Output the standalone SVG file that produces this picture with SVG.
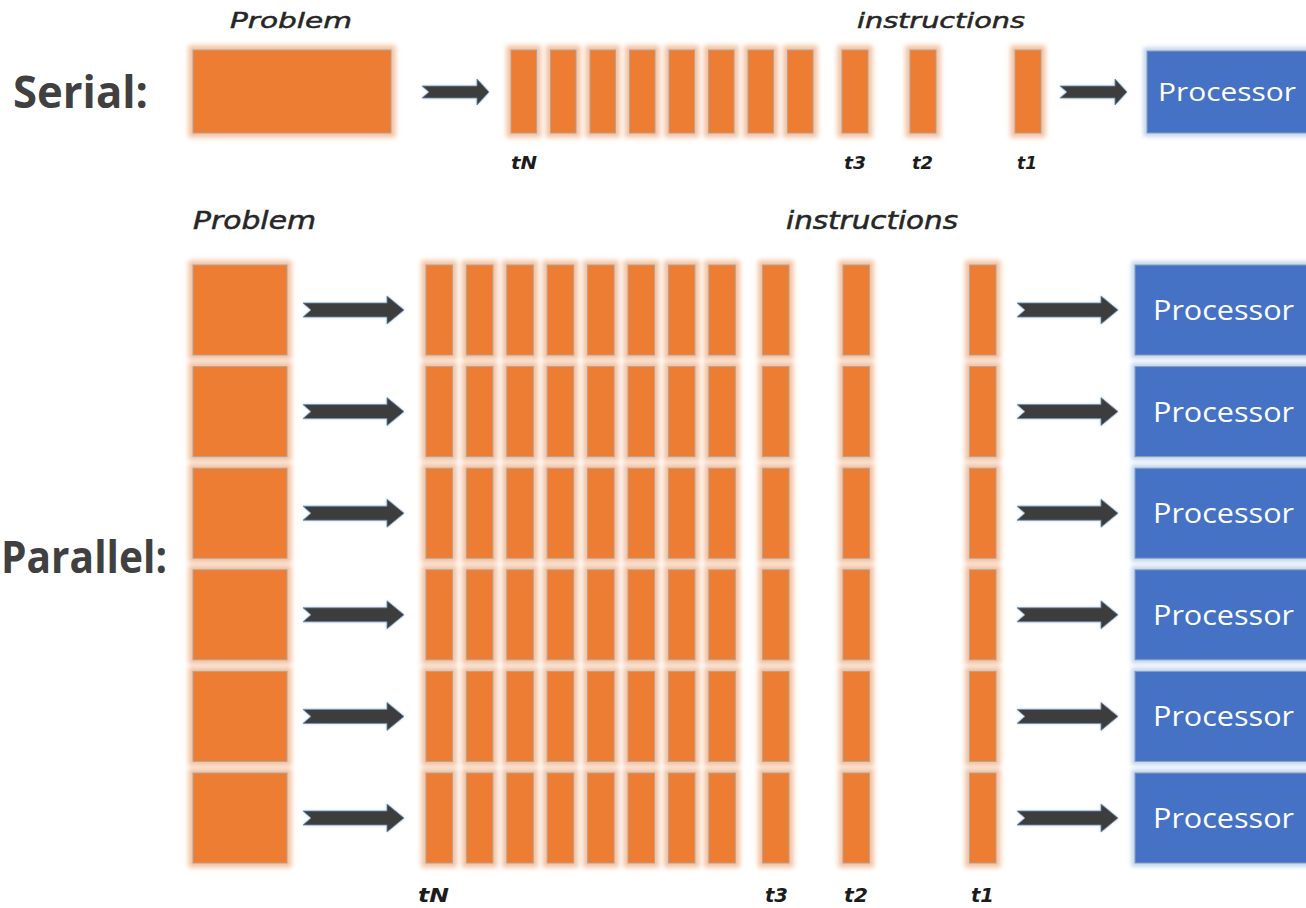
<svg xmlns="http://www.w3.org/2000/svg" width="1306" height="908" viewBox="0 0 1306 908">
  <defs>
    <style>
      .task { fill: #ED7D31; stroke: #b3a398; stroke-width: 1; filter: url(#glowOrange); }
      .cpu { fill: #4472C4; stroke: #8a9bb5; stroke-width: 1; filter: url(#glowBlue); }
      .cpu-text { font-family: "Open Sans", "Liberation Sans", sans-serif; fill: #ffffff; }
      .arrow { fill: #3d3d3d; stroke: #6f8fb3; stroke-width: 0.8; filter: url(#glowArrow); }
      .section { font-family: "Open Sans", "Liberation Sans", sans-serif; font-weight: bold; font-size: 44px; fill: #404040; }
      .heading { font-family: "DejaVu Sans", "Liberation Sans", sans-serif; font-style: italic; fill: #262626; stroke: #262626; stroke-width: 0.5; }
      .tick { font-family: "DejaVu Sans", "Liberation Sans", sans-serif; font-style: italic; font-weight: bold; fill: #1c1c1c; }
    </style>
    <filter id="glowOrange" x="-40%" y="-20%" width="180%" height="140%">
      <feMorphology in="SourceAlpha" operator="dilate" radius="3.5" result="d"/>
      <feGaussianBlur in="d" stdDeviation="2.4" result="b"/>
      <feFlood flood-color="#F0B58E" flood-opacity="0.85"/>
      <feComposite in2="b" operator="in" result="g"/>
      <feMerge><feMergeNode in="g"/><feMergeNode in="SourceGraphic"/></feMerge>
    </filter>
    <filter id="glowBlue" x="-20%" y="-20%" width="140%" height="140%">
      <feMorphology in="SourceAlpha" operator="dilate" radius="3" result="d"/>
      <feGaussianBlur in="d" stdDeviation="2.2" result="b"/>
      <feFlood flood-color="#B4CBEA" flood-opacity="0.85"/>
      <feComposite in2="b" operator="in" result="g"/>
      <feMerge><feMergeNode in="g"/><feMergeNode in="SourceGraphic"/></feMerge>
    </filter>
    <filter id="glowArrow" x="-20%" y="-40%" width="140%" height="180%">
      <feGaussianBlur in="SourceAlpha" stdDeviation="1" result="b"/>
      <feFlood flood-color="#9fbbe0" flood-opacity="0.7"/>
      <feComposite in2="b" operator="in" result="g"/>
      <feMerge><feMergeNode in="g"/><feMergeNode in="SourceGraphic"/></feMerge>
    </filter>
    <!-- notched block arrows -->
    <path id="arrowSmall" d="M0,-6 L55,-6 L55,-13 L67,0 L55,13 L55,6 L0,6 L7,0 Z"/>
    <path id="arrowLarge" d="M0,-7 L84,-7 L84,-14 L101,0 L84,14 L84,7 L0,7 L8,0 Z"/>
    <!-- one parallel row of instruction bars -->
    <g id="barRow">
      <rect class="task" x="426" y="0" width="26.5" height="90"/>
      <rect class="task" x="466.4" y="0" width="26.5" height="90"/>
      <rect class="task" x="506.8" y="0" width="26.5" height="90"/>
      <rect class="task" x="547.2" y="0" width="26.5" height="90"/>
      <rect class="task" x="587.6" y="0" width="26.5" height="90"/>
      <rect class="task" x="628" y="0" width="26.5" height="90"/>
      <rect class="task" x="668.4" y="0" width="26.5" height="90"/>
      <rect class="task" x="708.8" y="0" width="26.5" height="90"/>
      <rect class="task" x="762.5" y="0" width="26.5" height="90"/>
      <rect class="task" x="843" y="0" width="26.5" height="90"/>
      <rect class="task" x="969.5" y="0" width="26.5" height="90"/>
    </g>
  </defs>

  <rect x="0" y="0" width="1306" height="908" fill="#ffffff"/>

  <!-- ===== Serial ===== -->
  <text class="section" x="13" y="108" textLength="135" lengthAdjust="spacingAndGlyphs">Serial:</text>
  <text class="heading" x="230" y="28" font-size="22" textLength="122" lengthAdjust="spacingAndGlyphs">Problem</text>
  <text class="heading" x="857" y="28" font-size="22" textLength="168" lengthAdjust="spacingAndGlyphs">instructions</text>

  <g id="serial-problem">
    <rect class="task" x="193" y="50" width="198" height="83"/>
  </g>

  <g id="serial-instructions">
    <rect class="task" x="511" y="50" width="25.5" height="83"/>
    <rect class="task" x="550.5" y="50" width="25.5" height="83"/>
    <rect class="task" x="590" y="50" width="25.5" height="83"/>
    <rect class="task" x="629.5" y="50" width="25.5" height="83"/>
    <rect class="task" x="669" y="50" width="25.5" height="83"/>
    <rect class="task" x="708.5" y="50" width="25.5" height="83"/>
    <rect class="task" x="748" y="50" width="25.5" height="83"/>
    <rect class="task" x="787.5" y="50" width="25.5" height="83"/>
    <rect class="task" x="842" y="50" width="26" height="83"/>
    <rect class="task" x="910" y="50" width="26" height="83"/>
    <rect class="task" x="1015" y="50" width="26" height="83"/>
    <text class="tick" x="511" y="169" font-size="17" textLength="26" lengthAdjust="spacingAndGlyphs">tN</text>
    <text class="tick" x="844" y="169" font-size="17" textLength="22" lengthAdjust="spacingAndGlyphs">t3</text>
    <text class="tick" x="912" y="169" font-size="17" textLength="21" lengthAdjust="spacingAndGlyphs">t2</text>
    <text class="tick" x="1017" y="169" font-size="17" textLength="20" lengthAdjust="spacingAndGlyphs">t1</text>
  </g>

  <g id="serial-processor">
    <rect class="cpu" x="1147" y="51" width="180" height="82"/>
    <text class="cpu-text" x="1158" y="101" font-size="26" textLength="138" lengthAdjust="spacingAndGlyphs">Processor</text>
  </g>

  <g id="serial-connectors">
    <use href="#arrowSmall" class="arrow" x="422" y="92"/>
    <use href="#arrowSmall" class="arrow" x="1060" y="92"/>
  </g>

  <!-- ===== Parallel ===== -->
  <text class="section" x="1" y="573" textLength="166" lengthAdjust="spacingAndGlyphs">Parallel:</text>
  <text class="heading" x="193" y="229" font-size="24" textLength="123" lengthAdjust="spacingAndGlyphs">Problem</text>
  <text class="heading" x="786" y="229" font-size="24" textLength="172" lengthAdjust="spacingAndGlyphs">instructions</text>

  <g id="parallel-problems">
    <rect class="task" x="193" y="265" width="94" height="90"/>
    <rect class="task" x="193" y="366.6" width="94" height="90"/>
    <rect class="task" x="193" y="468.2" width="94" height="90"/>
    <rect class="task" x="193" y="569.8" width="94" height="90"/>
    <rect class="task" x="193" y="671.4" width="94" height="90"/>
    <rect class="task" x="193" y="773" width="94" height="90"/>
  </g>

  <g id="parallel-instructions">
    <use href="#barRow" y="265"/>
    <use href="#barRow" y="366.6"/>
    <use href="#barRow" y="468.2"/>
    <use href="#barRow" y="569.8"/>
    <use href="#barRow" y="671.4"/>
    <use href="#barRow" y="773"/>
    <text class="tick" x="418" y="902" font-size="20" textLength="31" lengthAdjust="spacingAndGlyphs">tN</text>
    <text class="tick" x="765" y="902" font-size="20" textLength="23" lengthAdjust="spacingAndGlyphs">t3</text>
    <text class="tick" x="844" y="902" font-size="20" textLength="24" lengthAdjust="spacingAndGlyphs">t2</text>
    <text class="tick" x="971" y="902" font-size="20" textLength="23" lengthAdjust="spacingAndGlyphs">t1</text>
  </g>

  <g id="parallel-processors">
    <rect class="cpu" x="1135" y="265" width="190" height="90"/>
    <rect class="cpu" x="1135" y="366.6" width="190" height="90"/>
    <rect class="cpu" x="1135" y="468.2" width="190" height="90"/>
    <rect class="cpu" x="1135" y="569.8" width="190" height="90"/>
    <rect class="cpu" x="1135" y="671.4" width="190" height="90"/>
    <rect class="cpu" x="1135" y="773" width="190" height="90"/>
    <text class="cpu-text" x="1153" y="320" font-size="28" textLength="141" lengthAdjust="spacingAndGlyphs">Processor</text>
    <text class="cpu-text" x="1153" y="421.6" font-size="28" textLength="141" lengthAdjust="spacingAndGlyphs">Processor</text>
    <text class="cpu-text" x="1153" y="523.2" font-size="28" textLength="141" lengthAdjust="spacingAndGlyphs">Processor</text>
    <text class="cpu-text" x="1153" y="624.8" font-size="28" textLength="141" lengthAdjust="spacingAndGlyphs">Processor</text>
    <text class="cpu-text" x="1153" y="726.4" font-size="28" textLength="141" lengthAdjust="spacingAndGlyphs">Processor</text>
    <text class="cpu-text" x="1153" y="828" font-size="28" textLength="141" lengthAdjust="spacingAndGlyphs">Processor</text>
  </g>

  <g id="parallel-connectors">
    <use href="#arrowLarge" class="arrow" x="303" y="310"/>
    <use href="#arrowLarge" class="arrow" x="303" y="411.6"/>
    <use href="#arrowLarge" class="arrow" x="303" y="513.2"/>
    <use href="#arrowLarge" class="arrow" x="303" y="614.8"/>
    <use href="#arrowLarge" class="arrow" x="303" y="716.4"/>
    <use href="#arrowLarge" class="arrow" x="303" y="818"/>
    <use href="#arrowLarge" class="arrow" x="1017" y="310"/>
    <use href="#arrowLarge" class="arrow" x="1017" y="411.6"/>
    <use href="#arrowLarge" class="arrow" x="1017" y="513.2"/>
    <use href="#arrowLarge" class="arrow" x="1017" y="614.8"/>
    <use href="#arrowLarge" class="arrow" x="1017" y="716.4"/>
    <use href="#arrowLarge" class="arrow" x="1017" y="818"/>
  </g>
</svg>
